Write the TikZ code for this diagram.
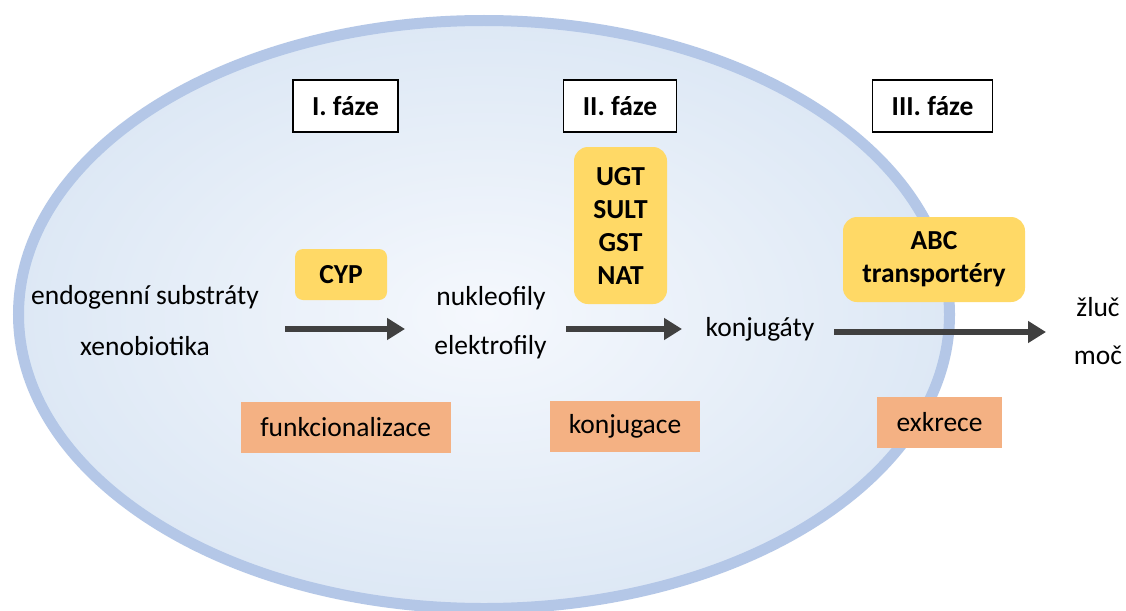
\documentclass[tikz,border=0pt]{standalone}
\usepackage{fontspec}
\setmainfont{Carlito}
\usetikzlibrary{arrows.meta}
\definecolor{ellborder}{HTML}{B4C7E7}
\definecolor{ellin}{HTML}{F5F8FD}
\definecolor{ellout}{HTML}{DDE8F5}
\definecolor{yel}{HTML}{FFD966}
\definecolor{ora}{HTML}{F4B183}
\definecolor{arrc}{HTML}{404040}
\begin{document}
\begin{tikzpicture}[x=1pt,y=-1pt,
  lbl/.style={font=\fontsize{27.5}{33}\selectfont, inner sep=0pt},
  phase/.style={draw=black, line width=1.6pt, fill=white, inner sep=0pt,
    minimum height=52pt, font=\fontsize{27.5}{33}\selectfont\bfseries},
  enzyme/.style={fill=yel, inner sep=0pt, align=center,
    font=\fontsize{27.5}{33}\selectfont\bfseries},
  process/.style={fill=ora, inner sep=0pt, minimum height=51pt,
    font=\fontsize{27.5}{33}\selectfont},
  flow/.style={line width=6pt, draw=arrc, -{Triangle[length=18pt,width=21pt]}}
]
\useasboundingbox (0,0) rectangle (1126,610);
\fill[white] (0,0) rectangle (1126,610);
% cell
\path[inner color=ellin, outer color=ellout] (484,314.5) ellipse [x radius=465.5, y radius=294];
\draw[line width=11pt, draw=ellborder] (484,314.5) ellipse [x radius=465.5, y radius=294];
% phases
\node[phase, minimum width=105pt] (p1) at (345.5,106) {I. fáze};
\node[phase, minimum width=113pt] (p2) at (620,106) {II. fáze};
\node[phase, minimum width=120pt] (p3) at (932.5,106) {III. fáze};
% enzymes
\node[enzyme, rounded corners=8pt, minimum width=92pt, minimum height=51pt] (cyp) at (341,274.5) {CYP};
\node[enzyme, rounded corners=14pt, minimum width=93pt, minimum height=157pt] (ugt) at (620.5,225.5) {UGT\\SULT\\GST\\NAT};
\node[enzyme, rounded corners=14pt, minimum width=182pt, minimum height=85pt] (abc) at (934,259.5) {ABC\\transportéry};
% processes
\node[process, minimum width=210pt] (fun) at (345.7,427.5) {funkcionalizace};
\node[process, minimum width=150pt] (kon) at (625,426.5) {konjugace};
\node[process, minimum width=125pt] (exk) at (939.5,422.5) {exkrece};
% substances
\node[lbl] (endo) at (145,297) {endogenní substráty};
\node[lbl] (xeno) at (145,346) {xenobiotika};
\node[lbl] (nuk) at (491,298) {nukleofily};
\node[lbl] (ele) at (490.5,347) {elektrofily};
\node[lbl] (konj) at (760,329) {konjugáty};
\node[lbl] (zluc) at (1098,307) {žluč};
\node[lbl] (moc) at (1098,355) {moč};
% arrows
\coordinate (a1s) at (285,329);
\coordinate (a1e) at (405,329);
\coordinate (a2s) at (566,329);
\coordinate (a2e) at (682,329);
\coordinate (a3s) at (834,332);
\coordinate (a3e) at (1046,332);
\draw[flow] (a1s) -- (a1e);
\draw[flow] (a2s) -- (a2e);
\draw[flow] (a3s) -- (a3e);
\end{tikzpicture}
\end{document}
